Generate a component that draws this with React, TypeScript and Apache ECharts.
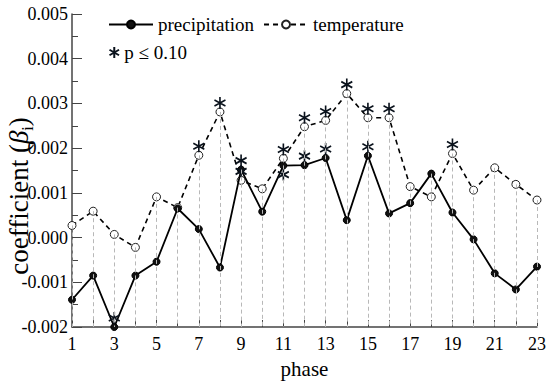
import React, { useEffect, useRef } from "react";
import * as echarts from "echarts";

const phases = ["1", "2", "3", "4", "5", "6", "7", "8", "9", "10", "11", "12", "13", "14", "15", "16", "17", "18", "19", "20", "21", "22", "23"];
const precipitation = [-0.00139, -0.00085, -0.002, -0.00085, -0.00054, 0.00065, 0.00019, -0.00067, 0.00152, 0.00058, 0.00161, 0.00162, 0.00178, 0.00039, 0.00183, 0.00054, 0.00077, 0.00143, 0.00056, -0.00004, -0.0008, -0.00116, -0.00065];
const temperature = [0.00027, 0.00059, 0.00007, -0.00022, 0.00091, 0.00067, 0.00184, 0.00281, 0.00128, 0.00109, 0.00177, 0.00248, 0.00262, 0.00322, 0.00268, 0.00268, 0.00114, 0.00091, 0.00188, 0.00106, 0.00156, 0.00119, 0.00084];
const temperatureSignificant = [7, 8, 9, 11, 12, 13, 14, 15, 16, 19];
const precipitationSignificant = [3, 9, 11, 12, 13, 15];
const precipitationStarBelow = [11];
const yTicks = { min: -0.002, max: 0.005, interval: 0.001 };

const SERIF = "Liberation Serif";
const STAR = "path://M5 0 L5 10 M0.67 2.5 L9.33 7.5 M0.67 7.5 L9.33 2.5";

export default function App() {
  const ref = useRef<HTMLDivElement>(null);
  useEffect(() => {
    if (!ref.current) return;
    const chart = echarts.init(ref.current, null, { renderer: "svg" });
    const dropLines = phases.map((p, i) => [
      { coord: [i, Math.max(precipitation[i], temperature[i])] },
      { coord: [i, yTicks.min] },
    ]);
    const sigData = [
      ...temperatureSignificant.map((p) => ({
        value: [p - 1, temperature[p - 1]],
        symbolOffset: [0, -9],
      })),
      ...precipitationSignificant.map((p) => ({
        value: [p - 1, precipitation[p - 1]],
        symbolOffset: precipitationStarBelow.includes(p) ? [0, 9] : [0, -9],
      })),
    ];
    const legendText = { fontFamily: SERIF, fontSize: 19, color: "#000" };
    chart.setOption({
      animation: false,
      backgroundColor: "#fff",
      textStyle: { fontFamily: SERIF },
      grid: { left: 72, right: 13, top: 14, bottom: 48, containLabel: false },
      legend: [
        {
          data: ["precipitation", "temperature"],
          left: 108,
          top: 15,
          padding: 0,
          itemWidth: 44,
          itemHeight: 10,
          itemGap: 9,
          textStyle: legendText,
        },
        {
          data: ["p ≤ 0.10"],
          left: 107,
          top: 43,
          padding: 0,
          itemWidth: 10,
          itemHeight: 11,
          textStyle: legendText,
        },
      ],
      xAxis: {
        type: "category",
        data: phases,
        boundaryGap: false,
        name: "phase",
        nameLocation: "middle",
        nameGap: 31,
        nameTextStyle: { fontFamily: SERIF, fontSize: 21, color: "#000" },
        axisLine: { onZero: false, lineStyle: { color: "#444", width: 1.5 } },
        axisTick: { show: true, inside: true, length: 7, interval: 0, lineStyle: { color: "#444" } },
        axisLabel: { interval: 1, fontFamily: SERIF, fontSize: 18, color: "#000", margin: 8 },
        splitLine: { show: false },
      },
      yAxis: {
        type: "value",
        min: yTicks.min,
        max: yTicks.max,
        interval: yTicks.interval,
        axisLine: { show: true, lineStyle: { color: "#444", width: 1.5 } },
        axisTick: { show: true, inside: true, length: 10, lineStyle: { color: "#444" } },
        minorTick: { show: true, splitNumber: 2, length: 6, lineStyle: { color: "#444" } },
        axisLabel: {
          fontFamily: SERIF,
          fontSize: 18,
          color: "#000",
          margin: 4,
          formatter: (v: number) => v.toFixed(3),
        },
        splitLine: { show: false },
      },
      graphic: [
        {
          type: "text",
          x: 19,
          y: 196,
          rotation: Math.PI / 2,
          style: {
            text: "{a|coefficient (}{b|β}{s|i}{a|)}",
            fontFamily: SERIF,
            fontSize: 27,
            fill: "#000",
            align: "center",
            verticalAlign: "middle",
            rich: {
              a: { fontFamily: SERIF, fontSize: 27, fill: "#000", lineHeight: 32 },
              b: { fontFamily: SERIF, fontSize: 27, fontStyle: "italic", fill: "#000", lineHeight: 32 },
              s: { fontFamily: SERIF, fontSize: 16, fill: "#000", verticalAlign: "bottom", lineHeight: 16 },
            },
          },
        },
      ],
      series: [
        {
          name: "drop",
          type: "line",
          data: [],
          z: 1,
          silent: true,
          markLine: {
            silent: true,
            symbol: "none",
            label: { show: false },
            lineStyle: { color: "#b8b8b8", type: [4, 3], width: 1 },
            data: dropLines,
          },
        },
        {
          name: "precipitation",
          type: "line",
          data: precipitation,
          z: 3,
          symbol: "circle",
          symbolSize: 7,
          showAllSymbol: true,
          clip: false,
          lineStyle: { color: "#000", width: 1.8 },
          itemStyle: { color: "#111", borderColor: "#000", borderWidth: 1 },
        },
        {
          name: "temperature",
          type: "line",
          data: temperature,
          z: 2,
          symbol: "circle",
          symbolSize: 8,
          showAllSymbol: true,
          lineStyle: { color: "#000", width: 1.6, type: [5, 4] },
          itemStyle: { color: "#fff", borderColor: "#222", borderWidth: 1 },
        },
        {
          name: "p ≤ 0.10",
          type: "scatter",
          data: sigData,
          z: 4,
          clip: false,
          symbol: STAR,
          symbolSize: [11, 12],
          itemStyle: { color: "none", borderColor: "#0a121c", borderWidth: 1.7, opacity: 1 },
        },
      ],
    });
    return () => chart.dispose();
  }, []);
  return (
    <div
      ref={ref}
      style={{ position: "fixed", left: 0, top: 0, width: 550, height: 384, background: "#fff" }}
    />
  );
}
